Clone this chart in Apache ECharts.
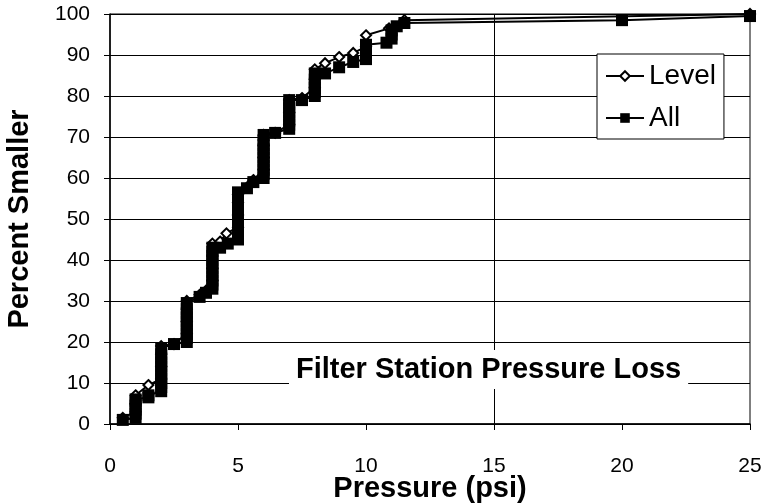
<!DOCTYPE html>
<html>
<head>
<meta charset="utf-8">
<script src="https://cdn.jsdelivr.net/npm/echarts@6/dist/echarts.min.js"></script>
<style>
html,body{margin:0;padding:0;background:#fff;}
#chart{width:773px;height:504px;}
</style>
</head>
<body>
<div id="chart"></div>
<script>
// ---- Data ----
const xTicks = [0, 5, 10, 15, 20, 25];
const yTicks = [0, 10, 20, 30, 40, 50, 60, 70, 80, 90, 100];

const levelX = [0.5, 1, 1, 1, 1.5, 2, 2, 2, 2, 2.5, 3, 3, 3, 3, 3.5, 3.75, 4, 4, 4, 4, 4.3, 4.55,
  5, 5, 5, 5, 5.4, 5.6, 6, 6, 6, 6, 6.45, 7, 7, 7, 7.5, 8, 8, 8, 8.4, 8.95, 9.5, 10, 10, 10.9, 11.5, 25];
const levelY = [1.5, 3, 5, 7, 9.5, 11, 14, 17, 19, 19.5, 22, 25, 28, 30, 31.5, 32.5, 35, 38, 41, 44, 44.5, 46.5,
  48, 51, 54, 56, 58, 59.5, 62, 65, 68, 70.5, 71, 73, 76, 79, 79.5, 82, 84, 86.5, 88, 89.5, 90.5, 92, 94.8, 96.5, 98.5, 100];

const allX = [0.5, 1, 1, 1, 1, 1, 1, 1.5, 1.5,
  2, 2, 2, 2, 2, 2, 2, 2, 2, 2, 2, 2.5,
  3, 3, 3, 3, 3, 3, 3, 3, 3, 3, 3.5, 3.75,
  4, 4, 4, 4, 4, 4, 4, 4, 4, 4, 4, 4.3, 4.6,
  5, 5, 5, 5, 5, 5, 5, 5, 5, 5, 5, 5, 5.35, 5.6,
  6, 6, 6, 6, 6, 6, 6, 6, 6, 6, 6, 6.45,
  7, 7, 7, 7, 7, 7, 7, 7, 7.5,
  8, 8, 8, 8, 8, 8, 8.4, 8.95, 9.5,
  10, 10, 10, 10, 10.8, 11, 11, 11, 11.2, 11.5, 20, 25];
const allY = [1, 1.5, 2.5, 3.5, 4.5, 5.5, 6, 6.5, 7,
  8, 9, 10, 11, 12, 13, 14, 15, 16, 17, 18.5, 19.5,
  20, 21, 22, 23, 24, 25, 26, 27, 28, 29.5, 31, 32,
  33, 34, 35, 36, 37, 38, 39, 40, 41, 42, 43, 43, 44,
  45, 46, 47, 48, 49, 50, 51, 52, 53, 54, 55, 56.5, 57.5, 59,
  60, 61, 62, 63, 64, 65, 66, 67, 68, 69, 70.5, 71,
  72, 73, 74, 75, 76, 77, 78, 79, 79,
  80, 81, 82, 83, 84, 85.5, 85.5, 87, 88.3,
  89, 90, 91, 92.5, 93, 94, 95, 96, 97, 97.8, 98.5, 99.5];

const refLineX = 15;
const chartTitle = 'Filter Station Pressure Loss';

const levelData = levelX.map((x, i) => [x, levelY[i]]);
const allData = allX.map((x, i) => [x, allY[i]]);

const FONT = '"Liberation Sans", Arial, sans-serif';

const chart = echarts.init(document.getElementById('chart'), null, {renderer: 'canvas'});
chart.setOption({
  animation: false,
  backgroundColor: '#fff',
  title: {
    text: chartTitle,
    left: 289,
    top: 350,
    padding: [5, 7, 5, 7],
    backgroundColor: '#fff',
    textStyle: {fontFamily: FONT, fontSize: 29, fontWeight: 'bold', color: '#000'}
  },
  legend: {
    orient: 'vertical',
    left: 597,
    top: 54,
    padding: [8, 8, 7, 8],
    itemGap: 14,
    itemWidth: 38,
    itemHeight: 12,
    backgroundColor: '#fff',
    borderColor: '#000',
    borderWidth: 1,
    textStyle: {fontFamily: FONT, fontSize: 28, color: '#000'},
    data: ['Level', 'All']
  },
  grid: {
    left: 110, right: 23, top: 14, bottom: 80,
    containLabel: false,
    outerBoundsMode: 'none',
    show: true, borderColor: '#000', borderWidth: 1, backgroundColor: 'transparent'
  },
  xAxis: {
    type: 'value',
    min: 0, max: 25, interval: 5,
    name: 'Pressure (psi)',
    nameLocation: 'middle',
    nameGap: 50,
    nameMoveOverlap: false,
    nameTextStyle: {fontFamily: FONT, fontSize: 29, fontWeight: 'bold', color: '#000'},
    axisLine: {show: true, onZero: false, lineStyle: {color: '#000', width: 1.5}},
    axisTick: {show: true, inside: false, length: 6, lineStyle: {color: '#000'}},
    axisLabel: {fontFamily: FONT, fontSize: 21, color: '#000', margin: 32,
      formatter: v => xTicks.includes(v) ? String(v) : ''},
    splitLine: {show: false}
  },
  yAxis: {
    type: 'value',
    min: 0, max: 100, interval: 10,
    name: 'Percent Smaller',
    nameLocation: 'middle',
    nameGap: 76,
    nameMoveOverlap: false,
    nameTextStyle: {fontFamily: FONT, fontSize: 29, fontWeight: 'bold', color: '#000'},
    axisLine: {show: true, onZero: false, lineStyle: {color: '#000', width: 1.5}},
    axisTick: {show: true, inside: false, length: 6, lineStyle: {color: '#000'}},
    axisLabel: {fontFamily: FONT, fontSize: 21, color: '#000', margin: 20,
      formatter: v => yTicks.includes(v) ? String(v) : ''},
    splitLine: {show: true, lineStyle: {color: '#000', width: 1}}
  },
  series: [
    {
      name: 'Level',
      type: 'line',
      data: levelData,
      symbol: 'diamond',
      symbolSize: 10,
      showAllSymbol: true,
      lineStyle: {color: '#000', width: 2},
      itemStyle: {color: '#fff', borderColor: '#000', borderWidth: 2},
      z: 2,
      markLine: {
        silent: true,
        symbol: 'none',
        label: {show: false},
        lineStyle: {color: '#000', width: 1, type: 'solid'},
        data: [{xAxis: refLineX}]
      }
    },
    {
      name: 'All',
      type: 'line',
      data: allData,
      symbol: 'rect',
      symbolSize: 12,
      showAllSymbol: true,
      lineStyle: {color: '#000', width: 2},
      itemStyle: {color: '#000', borderColor: '#000', borderWidth: 0},
      zlevel: 1,
      z: 3
    }
  ]
});
</script>
</body>
</html>
